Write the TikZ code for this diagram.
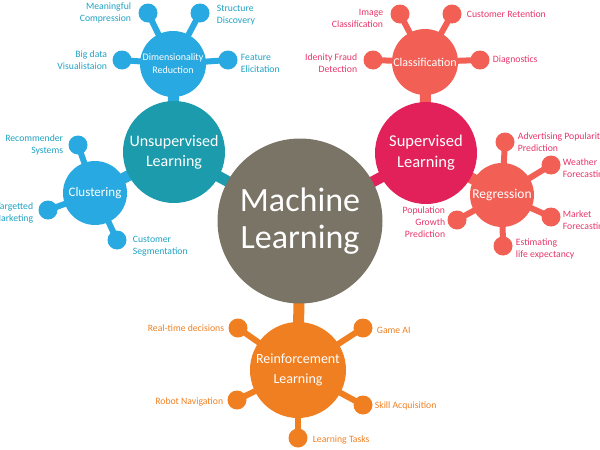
\documentclass[tikz,border=0pt]{standalone}
\usepackage{fontspec}
\setmainfont{Carlito}
\usetikzlibrary{positioning,backgrounds}

\definecolor{mlgray}{HTML}{7A7466}
\definecolor{unsup}{HTML}{1B9BAC}
\definecolor{lblue}{HTML}{29A9E1}
\definecolor{txtblue}{HTML}{1FA2C2}
\definecolor{sup}{HTML}{E2215A}
\definecolor{coral}{HTML}{F15F55}
\definecolor{txtpink}{HTML}{E6356A}
\definecolor{reinf}{HTML}{F07F22}

\tikzset{
    hub/.style={circle, fill=#1, text=white, align=center, inner sep=0pt},
    leaf/.style={circle, fill=#1, minimum size=19pt, inner sep=0pt},
    stem/.style={line width=11pt, draw=#1},
    twig/.style={line width=6pt, draw=#1},
    lbl/.style={text=#1, inner sep=0pt, font=\fontsize{9.7}{12}\selectfont}
}

\begin{document}
\begin{tikzpicture}[x=1pt, y=1pt]
                \clip (0,0) rectangle (600,-450);

                % hubs
                \node[hub=mlgray, minimum size=165pt, font=\fontsize{34}{37}\selectfont] (ML) at (300,-221) {Machine\\Learning};
                \node[hub=unsup, minimum size=102pt, font=\fontsize{16}{20}\selectfont] (UL) at (174,-152) {Unsupervised\\Learning};
                \node[hub=sup, minimum size=102pt, font=\fontsize{16.5}{21}\selectfont] (SL) at (426,-153) {Supervised\\Learning};
                \node[hub=reinf, minimum size=96pt, font=\fontsize{14}{20}\selectfont] (RL) at (298,-370) {Reinforcement\\Learning};

                \node[hub=lblue, minimum size=66pt, font=\fontsize{10}{13}\selectfont] (DR) at (173,-64) {Dimensionality\\Reduction};
                \node[hub=lblue, minimum size=64pt, font=\fontsize{13}{15}\selectfont] (CL) at (95,-193) {Clustering};
                \node[hub=coral, minimum size=66pt, font=\fontsize{12}{14}\selectfont] (CF) at (425,-62) {Classification};
                \node[hub=coral, minimum size=64pt, font=\fontsize{13.5}{15}\selectfont] (RG) at (502,-195) {Regression};

                % leaves
                \begin{scope}[every node/.style={leaf=lblue}]
                    \node (mc) at (148,-13) {};
                    \node (sd) at (200,-13) {};
                    \node (bd) at (122,-60) {};
                    \node (fe) at (228,-60) {};
                    \node (rs) at (78,-145) {};
                    \node (tm) at (48,-210) {};
                    \node (cs) at (117,-240) {};
                \end{scope}
                \begin{scope}[every node/.style={leaf=coral}]
                    \node (ic) at (400,-14) {};
                    \node (cr) at (452,-14) {};
                    \node (fd) at (373,-60) {};
                    \node (dg) at (480,-60) {};
                    \node (ap) at (505,-142) {};
                    \node (wf) at (551,-165) {};
                    \node (mf) at (551,-217) {};
                    \node (le) at (503,-246) {};
                    \node (pg) at (457,-220) {};
                \end{scope}
                \begin{scope}[every node/.style={leaf=reinf}]
                    \node (rt) at (238,-328) {};
                    \node (ga) at (363,-328) {};
                    \node (rn) at (237,-400) {};
                    \node (sa) at (363,-405) {};
                    \node (lt) at (298,-438) {};
                \end{scope}

                % stems
                \begin{scope}[on background layer]
                    \draw[stem=unsup] (ML.center) -- (UL.center);
                    \draw[stem=sup] (ML.center) -- (SL.center);
                    \draw[stem=reinf] (ML.center) -- (RL.center);
                    \draw[stem=lblue] (UL.center) -- (DR.center);
                    \draw[stem=lblue] (UL.center) -- (CL.center);
                    \draw[stem=coral] (SL.center) -- (CF.center);
                    \draw[stem=coral] (SL.center) -- (RG.center);

                    \foreach \l in {mc,sd,bd,fe}
                        \draw[twig=lblue] (DR.center) -- (\l.center);
                    \foreach \l in {rs,tm,cs}
                        \draw[twig=lblue] (CL.center) -- (\l.center);
                    \foreach \l in {ic,cr,fd,dg}
                        \draw[twig=coral] (CF.center) -- (\l.center);
                    \foreach \l in {ap,wf,mf,le,pg}
                        \draw[twig=coral] (RG.center) -- (\l.center);
                    \foreach \l in {rt,ga,rn,sa,lt}
                        \draw[twig=reinf] (RL.center) -- (\l.center);
                \end{scope}

                % labels
                \node[lbl=txtblue, align=right, left=7pt of mc] (tmc) {Meaningful\\Compression};
                \node[lbl=txtblue, align=left, right=7pt of sd, yshift=-2pt] (tsd) {Structure\\Discovery};
                \node[lbl=txtblue, align=right, left=5pt of bd] (tbd) {Big data\\Visualistaion};
                \node[lbl=txtblue, align=left, right=3pt of fe, yshift=-3pt] (tfe) {Feature\\Elicitation};
                \node[lbl=txtblue, align=right, left=5pt of rs] (trs) {Recommender\\Systems};
                \node[lbl=txtblue, align=right, left=5pt of tm, yshift=-3pt] (ttm) {Targetted\\Marketing};
                \node[lbl=txtblue, align=left, right=6pt of cs, yshift=-6pt] (tcs) {Customer\\Segmentation};

                \node[lbl=txtpink, align=right, left=7pt of ic, yshift=-4pt] (tic) {Image\\Classification};
                \node[lbl=txtpink, align=left, right=5pt of cr] (tcr) {Customer Retention};
                \node[lbl=txtpink, align=right, left=6pt of fd, yshift=-3pt] (tfd) {Idenity Fraud\\Detection};
                \node[lbl=txtpink, align=left, right=3pt of dg] (tdg) {Diagnostics};
                \node[lbl=txtpink, align=left, right=3pt of ap] (tap) {Advertising Popularity\\Prediction};
                \node[lbl=txtpink, align=left, right=2pt of wf, yshift=-4pt] (twf) {Weather\\Forecasting};
                \node[lbl=txtpink, align=left, right=2pt of mf, yshift=-4pt] (tmf) {Market\\Forecasting};
                \node[lbl=txtpink, align=left, right=3pt of le, yshift=-3pt] (tle) {Estimating\\life expectancy};
                \node[lbl=txtpink, align=right, left=2pt of pg, yshift=-2pt] (tpg) {Population\\Growth\\Prediction};

                \node[lbl=reinf, left=4pt of rt] (trt) {Real-time decisions};
                \node[lbl=reinf, right=4pt of ga, yshift=-2pt] (tga) {Game AI};
                \node[lbl=reinf, left=4pt of rn, yshift=-2pt] (trn) {Robot Navigation};
                \node[lbl=reinf, right=2pt of sa, yshift=-1pt] (tsa) {Skill Acquisition};
                \node[lbl=reinf, right=5pt of lt, yshift=-2pt] (tlt) {Learning Tasks};
\end{tikzpicture}
\end{document}
